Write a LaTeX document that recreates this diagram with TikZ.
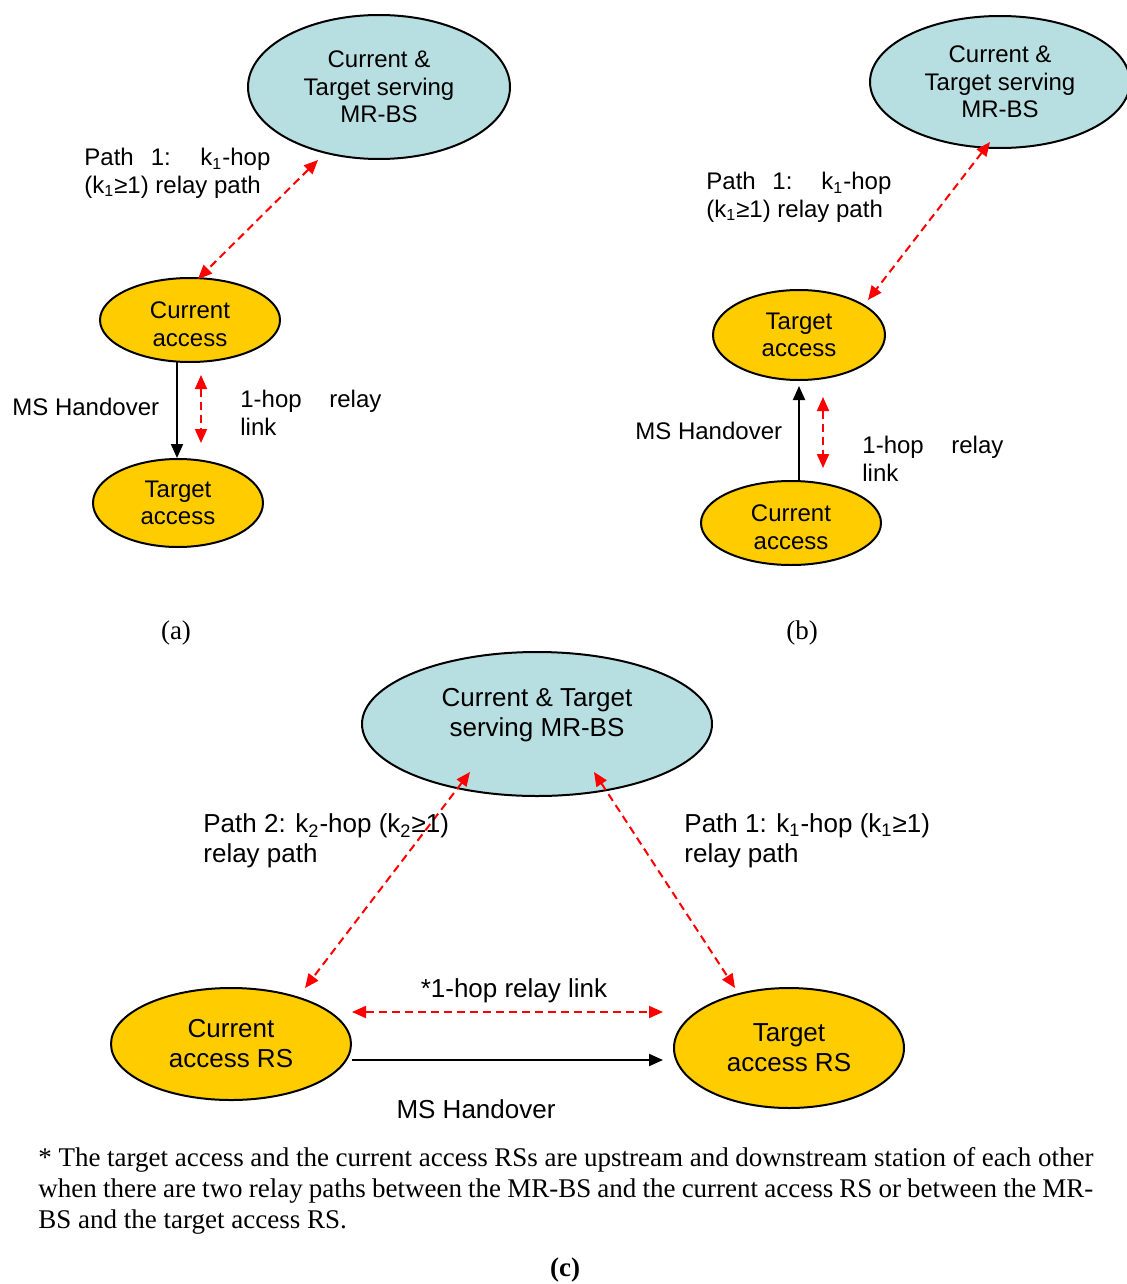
\documentclass[tikz,border=0pt]{standalone}
\usepackage{fontspec}
\setmainfont{Liberation Sans}
\newfontfamily\capfont{Liberation Serif}
\usetikzlibrary{shapes.geometric,arrows.meta,calc}
\definecolor{bsblue}{RGB}{183,222,224}
\definecolor{rsyellow}{RGB}{255,204,0}
\definecolor{relayred}{RGB}{255,0,0}

\begin{document}
\begin{tikzpicture}[x=0.5pt,y=-0.5pt,
  small/.style={font=\fontsize{12}{13.8}\selectfont},
  large/.style={font=\fontsize{13}{15}\selectfont},
  station/.style={ellipse, draw, line width=1pt, inner sep=0pt, align=center},
  bs/.style={station, fill=bsblue},
  rs/.style={station, fill=rsyellow},
  inside/.style={label distance=0pt, inner sep=0pt, align=center},
  relay/.style={color=relayred, dash pattern=on 4pt off 2.5pt, line width=1pt,
    {Triangle[length=7pt,width=6pt]}-{Triangle[length=7pt,width=6pt]}},
  handover/.style={line width=1pt, -{Triangle[length=7pt,width=6pt]}},
  lbl/.style={inner sep=0pt, align=left, anchor=west},
  part/.style={inner sep=0pt, font=\capfont\fontsize{13.5}{15}\selectfont}
]
\useasboundingbox[fill=white] (0,0) rectangle (1126,1284);

% ---------------- (a) ----------------
\node[bs, small, minimum width=131pt, minimum height=72pt] (topA) at (379,87)
  {Current \&\\Target serving\\MR-BS};
\node[rs, minimum width=90pt, minimum height=42pt,
  label={[inside, small, yshift=-2.2pt]center:{Current\\access}}] (curA) at (190,320) {};
\node[rs, small, minimum width=85pt, minimum height=44pt] (tgtA) at (178,503)
  {Target\\access};
\draw[relay] ($(topA.center)+(-61,73)$) -- ($(curA.center)+(8,-41)$);
\draw[handover] ($(curA.center)+(-13,42)$) -- ($(tgtA.center)+(-1,-45)$);
\draw[relay] ($(curA.center)+(11,55)$) -- ($(tgtA.center)+(23,-60)$);
\node[lbl, small] (pathA) at (84,173)
  {\makebox[93pt][s]{Path 1: k\textsubscript{1}-hop}\\(k\textsubscript{1}≥1) relay path};
\node[lbl, small] (hoA) at (12,407) {MS Handover};
\node[lbl, small] (hopA) at (240,413) {\makebox[70.5pt][s]{1-hop relay}\\link};
\node[part] (capA) at (176,633) {(a)};

% ---------------- (b) ----------------
\node[bs, small, minimum width=130pt, minimum height=66pt] (topB) at (1000,82)
  {Current \&\\Target serving\\MR-BS};
\node[rs, small, minimum width=86pt, minimum height=45pt] (tgtB) at (799,335)
  {Target\\access};
\node[rs, minimum width=90pt, minimum height=42pt,
  label={[inside, small, yshift=-2.2pt]center:{Current\\access}}] (curB) at (791,523) {};
\draw[relay] ($(topB.center)+(-10,60)$) -- ($(tgtB.center)+(69,-35)$);
\draw[handover] ($(curB.center)+(8,-42)$) -- ($(tgtB.center)+(0,51)$);
\draw[relay] ($(tgtB.center)+(24,62)$) -- ($(curB.center)+(32,-55)$);
\node[lbl, small] (pathB) at (706,197)
  {\makebox[92.5pt][s]{Path 1: k\textsubscript{1}-hop}\\(k\textsubscript{1}≥1) relay path};
\node[lbl, small] (hoB) at (635,431) {MS Handover};
\node[lbl, small] (hopB) at (862,459) {\makebox[70.5pt][s]{1-hop relay}\\link};
\node[part] (capB) at (802,633) {(b)};

% ---------------- (c) ----------------
\node[bs, minimum width=175pt, minimum height=72pt,
  label={[inside, large, yshift=4.5pt]center:{Current \& Target\\serving MR-BS}}] (topC) at (537,724) {};
\node[rs, large, minimum width=120pt, minimum height=56pt] (curC) at (231,1044)
  {Current\\access RS};
\node[rs, large, minimum width=115pt, minimum height=60pt] (tgtC) at (789,1048)
  {Target\\access RS};
\draw[relay] ($(topC.center)+(-67,48)$) -- ($(curC.center)+(74,-56)$);
\draw[relay] ($(topC.center)+(57,48)$) -- ($(tgtC.center)+(-54,-60)$);
\draw[relay] ($(curC.center)+(121,-32)$) -- ($(tgtC.center)+(-126,-36)$);
\draw[handover] ($(curC.center)+(121,16)$) -- ($(tgtC.center)+(-126,12)$);
\node[lbl, large] (path2C) at (203,841)
  {Path 2: k\textsubscript{2}-hop (k\textsubscript{2}≥1)\\relay path};
\node[lbl, large] (path1C) at (684,841)
  {Path 1: k\textsubscript{1}-hop (k\textsubscript{1}≥1)\\relay path};
\node[inner sep=0pt, large] (hopC) at (514,991) {*1-hop relay link};
\node[inner sep=0pt, large] (hoC) at (476,1109) {MS Handover};

\node[lbl, font=\capfont\fontsize{13.5}{15.5}\selectfont] (note) at (38,1191)
  {\makebox[527.5pt][s]{* The target access and the current access RSs are upstream and downstream station of each other}\\
   \makebox[527.5pt][s]{when there are two relay paths between the MR-BS and the current access RS or between the MR-}\\
   BS and the target access RS.};
\node[part, font=\capfont\bfseries\fontsize{13.5}{15}\selectfont] (capC) at (565,1270) {(c)};
\end{tikzpicture}
\end{document}
